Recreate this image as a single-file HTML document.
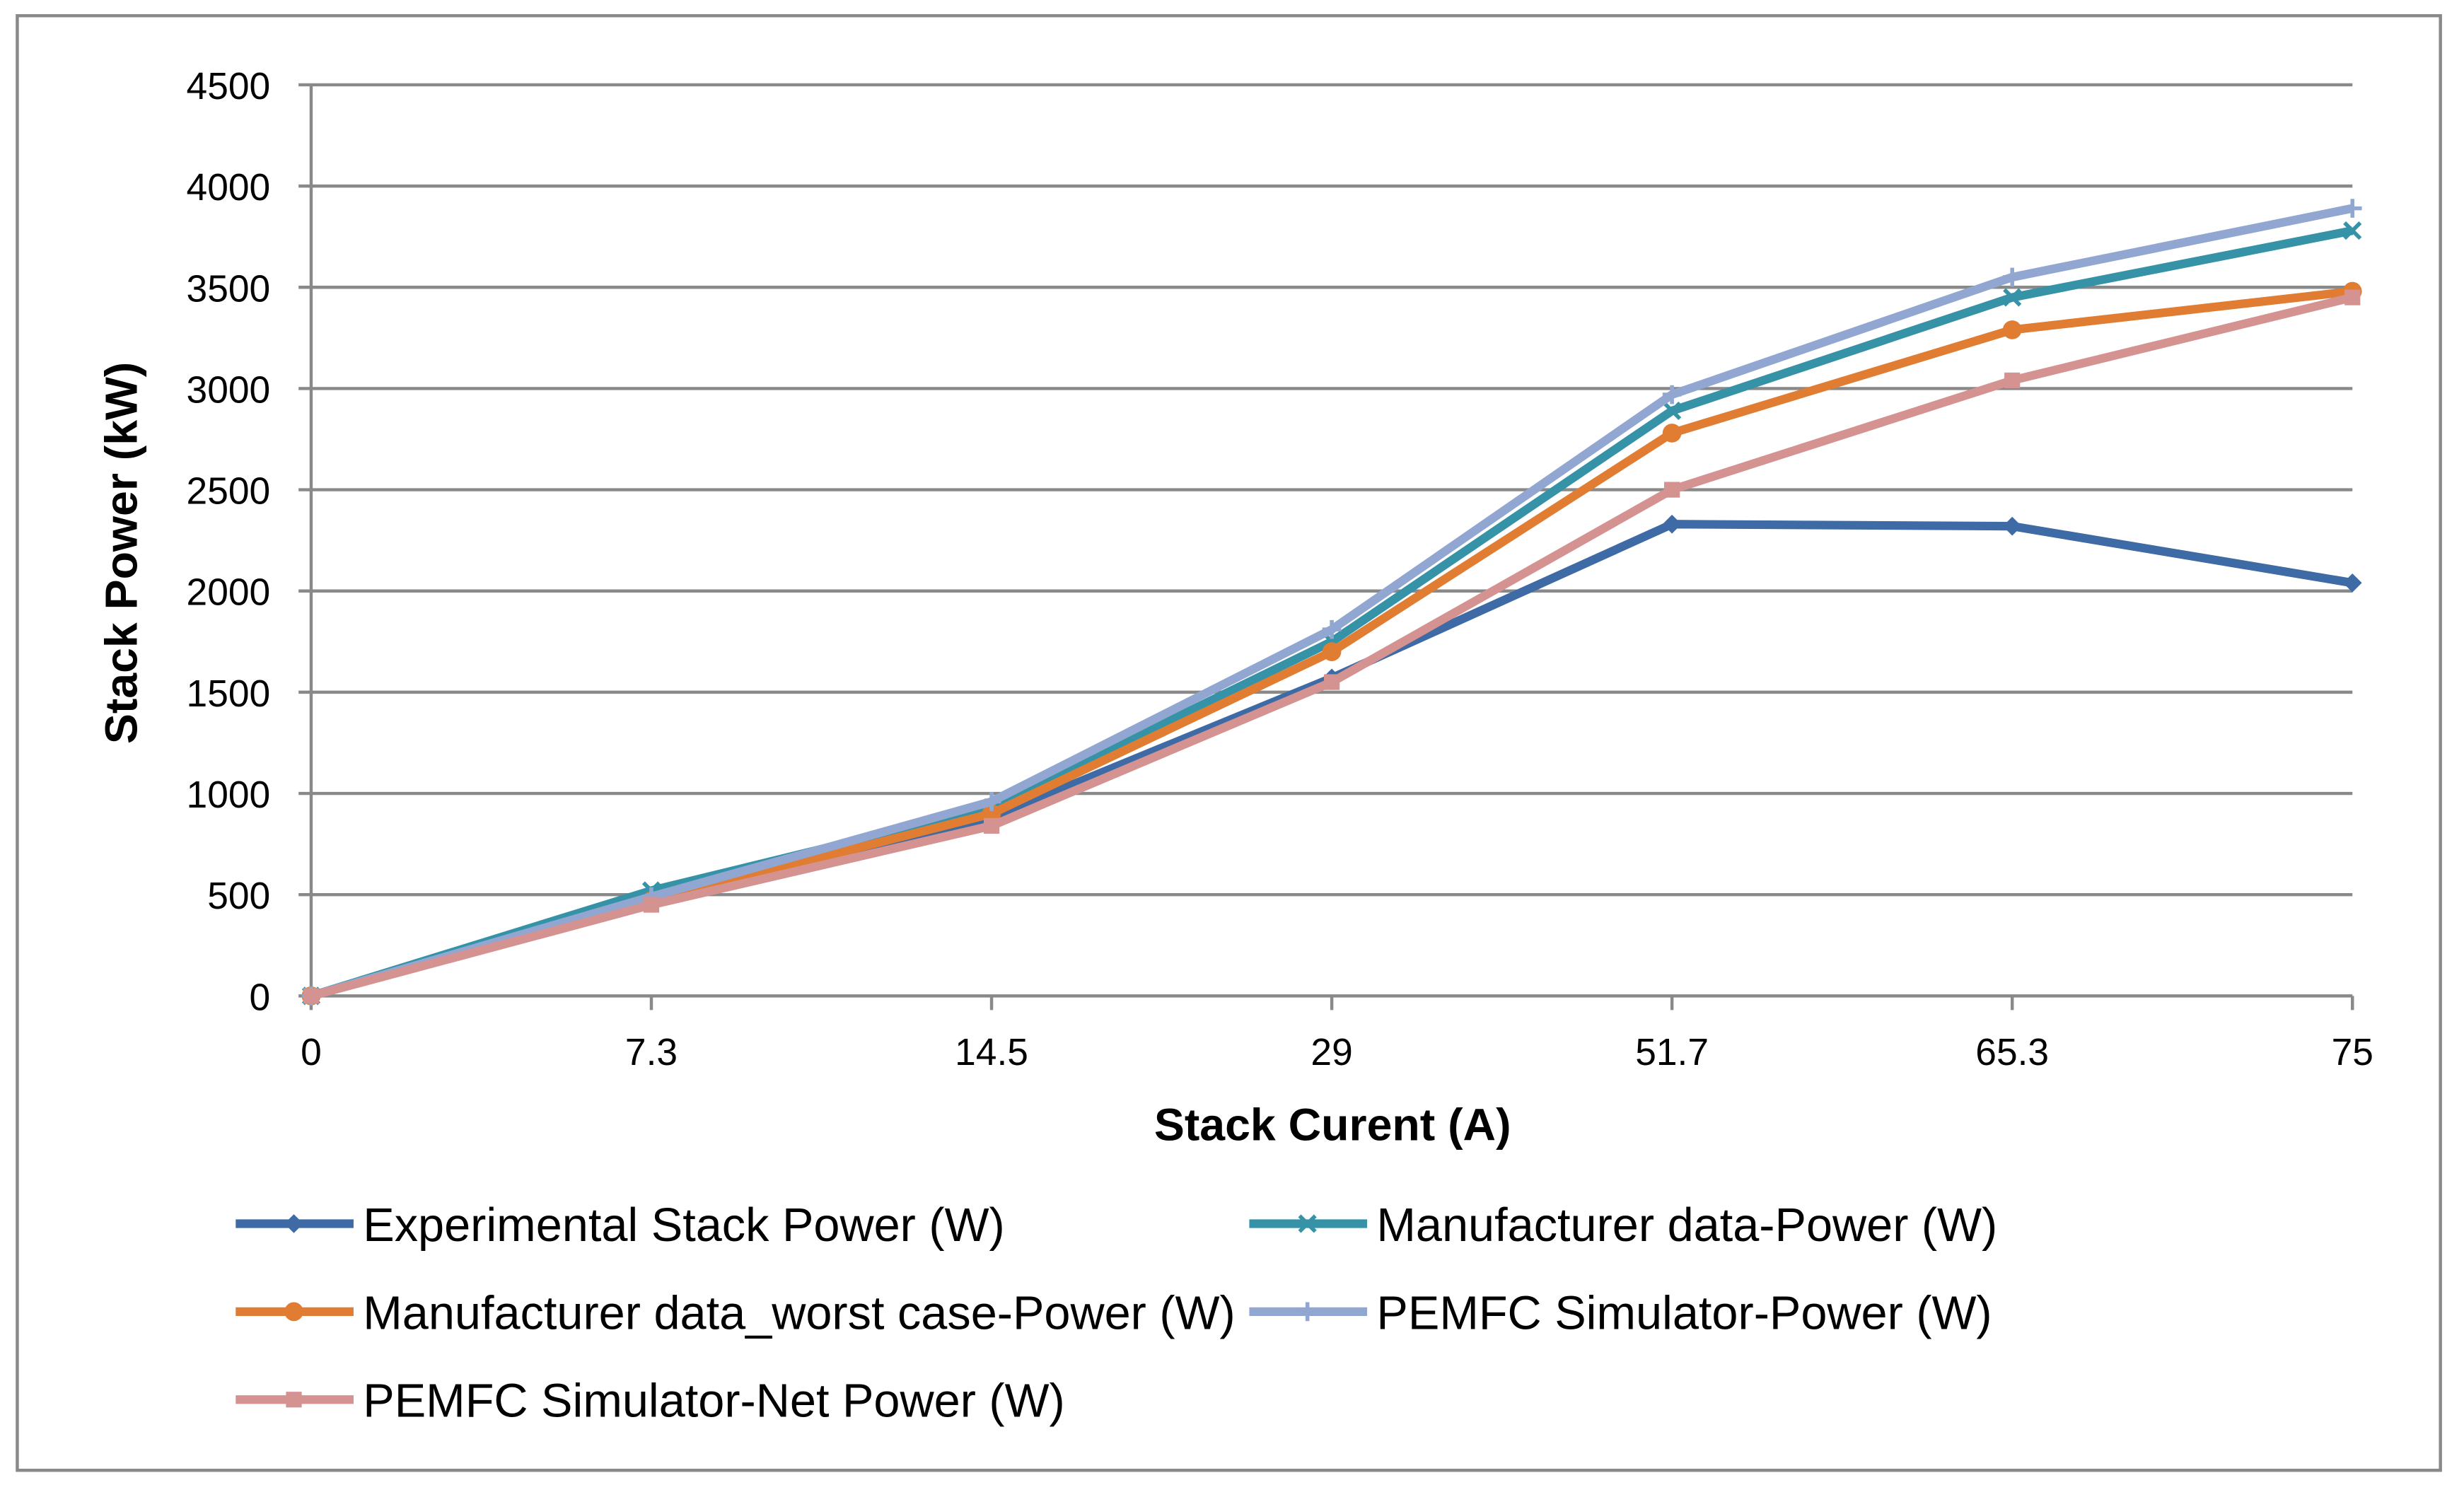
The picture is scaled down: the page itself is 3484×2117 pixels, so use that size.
<!DOCTYPE html>
<html><head><meta charset="utf-8"><style>html,body{margin:0;padding:0;background:#fff}svg{display:block}</style></head>
<body>
<svg id="chart" width="3484" height="2117" viewBox="0 0 1568 953" preserveAspectRatio="none" xmlns="http://www.w3.org/2000/svg" font-family="Liberation Sans, Arial, sans-serif">
<rect x="11" y="10" width="1542" height="926" fill="#fff" stroke="#898989" stroke-width="2"/>
<g id="grid"></g><g id="axes"></g><g id="series"></g><g id="legend"></g>
<text transform="translate(87,352) rotate(-90)" text-anchor="middle" font-size="29" font-weight="bold">Stack Power (kW)</text>
<text x="848" y="726" text-anchor="middle" font-size="29" font-weight="bold">Stack Curent (A)</text>
</svg>
<script>
const categories = ["0","7.3","14.5","29","51.7","65.3","75"];
const yTicks = [0,500,1000,1500,2000,2500,3000,3500,4000,4500];
const expPower = [0,460,880,1570,2330,2320,2040];
const mfgPower = [0,520,930,1750,2890,3450,3780];
const worstPower = [0,470,900,1700,2780,3290,3480];
const simPower = [0,490,960,1810,2970,3550,3890];
const netPower = [0,450,840,1550,2500,3040,3450];
const seriesNames = ["Experimental Stack Power (W)","Manufacturer data-Power (W)","Manufacturer data_worst case-Power (W)","PEMFC Simulator-Power (W)","PEMFC Simulator-Net Power (W)"];

const NS="http://www.w3.org/2000/svg";
const X0=198,X1=1497,Y0=634,Y1=54;
function xs(i){return X0+(X1-X0)*i/(categories.length-1);}
function ys(v){return Y0-(Y0-Y1)*v/4500;}
function mk(tag,attrs,parent){const e=document.createElementNS(NS,tag);for(const k in attrs)e.setAttribute(k,attrs[k]);parent.appendChild(e);return e;}
const grid=document.getElementById('grid'),axes=document.getElementById('axes'),ser=document.getElementById('series'),leg=document.getElementById('legend');
yTicks.forEach(v=>{
  const l=mk('line',{x1:X0-8,x2:X1,y1:ys(v),y2:ys(v),stroke:'#898989','stroke-width':2},grid);
  
  
  const t=mk('text',{x:172,y:ys(v)+9,'text-anchor':'end','font-size':24},axes);
  t.textContent=v;
  
  
});
const ya=mk('line',{x1:X0,x2:X0,y1:Y1,y2:Y0,stroke:'#898989','stroke-width':2},axes);


categories.forEach((c,i)=>{
  const tk=mk('line',{x1:xs(i),x2:xs(i),y1:Y0,y2:Y0+9,stroke:'#898989','stroke-width':2},axes);
  
  
  const t=mk('text',{x:xs(i),y:678,'text-anchor':'middle','font-size':24},axes);
  t.textContent=c;
  
  
});
function marker(type,x,y,col,g){
  let e;
  if(type==='diamond')e=mk('path',{d:`M${x},${y-6}L${x+6},${y}L${x},${y+6}L${x-6},${y}Z`,fill:col},g);
  else if(type==='x')e=mk('path',{d:`M${x-5},${y-5}L${x+5},${y+5}M${x-5},${y+5}L${x+5},${y-5}`,stroke:col,'stroke-width':2.5},g);
  else if(type==='circle')e=mk('circle',{cx:x,cy:y,r:6,fill:col},g);
  else if(type==='plus')e=mk('path',{d:`M${x-6},${y}L${x+6},${y}M${x},${y-6}L${x},${y+6}`,stroke:col,'stroke-width':2.5},g);
  else e=mk('rect',{x:x-5,y:y-5,width:10,height:10,fill:col},g);
  return e;
}
const defs=[[expPower,'#3e6aa6','diamond','experimental'],[mfgPower,'#3693a7','x','manufacturer'],[worstPower,'#e07d33','circle','worst-case'],[simPower,'#91a7d2','plus','simulator'],[netPower,'#d49291','square','simulator-net']];
defs.forEach(([d,col,m,nm])=>{
  const g=mk('g',{},ser);
  
  
  const p=mk('polyline',{points:d.map((v,i)=>xs(i)+','+ys(v)).join(' '),fill:'none',stroke:col,'stroke-width':5.5,'stroke-linejoin':'round'},g);
  
  
  d.forEach((v,i)=>{const e=marker(m,xs(i),ys(v),col,g);
    
    });
});
const legPos=[[150,779],[795,779],[150,835],[795,835],[150,891]];
defs.forEach(([d,col,m,nm],k)=>{
  const [lx,ly]=legPos[k];
  const g=mk('g',{},leg);
  
  
  mk('line',{x1:lx,x2:lx+75,y1:ly,y2:ly,stroke:col,'stroke-width':5.5},g);
  marker(m,lx+37,ly,col,g);
  const t=mk('text',{x:lx+81,y:ly+11,'font-size':30},g);
  t.textContent=seriesNames[k];
});
</script>
</body></html>
